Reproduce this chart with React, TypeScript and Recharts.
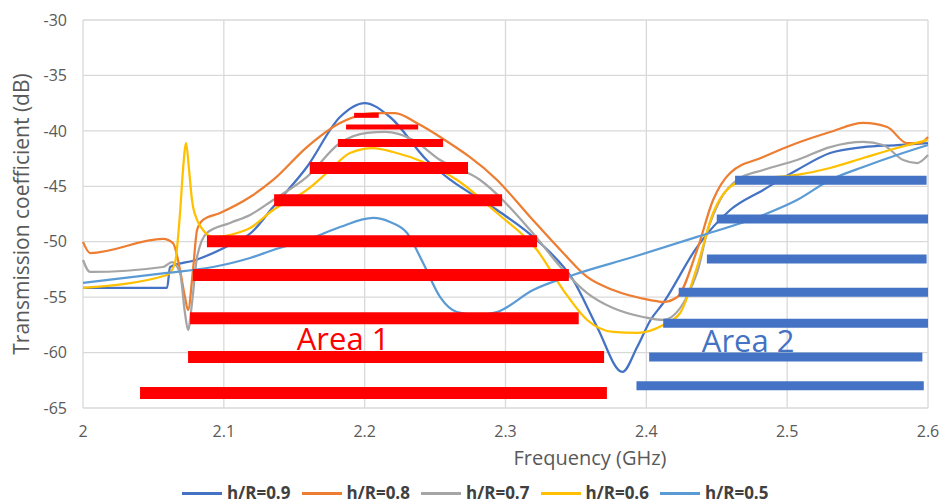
import React from 'react';
import { LineChart, Line, XAxis, YAxis, CartesianGrid, Legend, ReferenceDot, Label } from 'recharts';

const freqTicks = [2, 2.1, 2.2, 2.3, 2.4, 2.5, 2.6];
const dbTicks = [-65, -60, -55, -50, -45, -40, -35, -30];

// [frequency (GHz), transmission (dB)]
const hr09: [number, number][] = [
  [2.0, -54.17], [2.0597, -54.17], [2.0618, -52.28], [2.08, -51.65], [2.1, -50.57], [2.12, -49.12],
  [2.135, -46.87], [2.159, -43.26], [2.1825, -38.75], [2.2, -37.49], [2.218, -38.75], [2.244, -42.63],
  [2.261, -44.43], [2.294, -47.14], [2.3246, -50.12], [2.348, -53.45], [2.365, -57.69], [2.383, -61.75],
  [2.3935, -59.5], [2.403, -57.06], [2.412, -55.53], [2.436, -50.48], [2.4595, -47.14], [2.483, -45.33],
  [2.507, -43.53], [2.5305, -42.0], [2.554, -41.46], [2.578, -41.28], [2.6, -41.1],
];

const hr08: [number, number][] = [
  [2.0, -50.02], [2.005, -51.02], [2.0568, -49.75], [2.0639, -50.12], [2.0689, -52.55], [2.0724, -54.99],
  [2.0746, -56.16], [2.0781, -52.55], [2.081, -48.94], [2.0852, -48.04], [2.0973, -47.41], [2.1186, -45.97],
  [2.135, -44.43], [2.159, -41.46], [2.1825, -39.29], [2.206, -38.39], [2.2216, -38.39], [2.237, -39.29],
  [2.2536, -40.55], [2.294, -44.43], [2.3175, -47.77], [2.341, -51.02], [2.358, -53.18], [2.3764, -54.36],
  [2.4027, -55.26], [2.412, -55.44], [2.422, -54.99], [2.436, -50.75], [2.4474, -46.24], [2.4595, -43.8],
  [2.483, -42.36], [2.507, -41.1], [2.5305, -40.1], [2.554, -39.29], [2.571, -39.65], [2.585, -41.1],
  [2.5945, -41.1], [2.6, -40.55],
];

const hr07: [number, number][] = [
  [2.0, -51.65], [2.005, -52.73], [2.0568, -52.28], [2.0632, -51.83], [2.0689, -52.82], [2.0724, -56.43],
  [2.0746, -57.96], [2.0774, -55.53], [2.081, -51.38], [2.088, -49.21], [2.1044, -48.31], [2.1186, -47.59],
  [2.135, -46.24], [2.159, -44.16], [2.1825, -41.1], [2.2017, -40.19], [2.2145, -40.1], [2.2344, -40.82],
  [2.2536, -42.63], [2.282, -44.43], [2.3175, -48.94], [2.341, -52.55], [2.358, -54.63], [2.3764, -55.98],
  [2.3977, -56.79], [2.412, -57.06], [2.436, -52.82], [2.443, -49.21], [2.4524, -46.24], [2.4645, -44.43],
  [2.483, -43.53], [2.507, -42.63], [2.5305, -41.46], [2.554, -41.0], [2.568, -41.28], [2.5824, -42.63],
  [2.5923, -42.9], [2.6, -42.18],
];

const hr06: [number, number][] = [
  [2.0, -54.17], [2.0597, -53.0], [2.0653, -51.92], [2.0689, -47.41], [2.071, -43.53], [2.0732, -41.1],
  [2.0753, -43.53], [2.0774, -46.24], [2.081, -48.04], [2.0852, -48.94], [2.0923, -49.57], [2.1094, -49.21],
  [2.1186, -48.76], [2.135, -47.14], [2.159, -45.33], [2.1754, -43.53], [2.1896, -42.0], [2.206, -41.55],
  [2.2202, -41.91], [2.2415, -42.81], [2.2656, -44.43], [2.294, -47.41], [2.3224, -50.75], [2.341, -54.36],
  [2.358, -57.06], [2.3764, -58.14], [2.3935, -58.23], [2.412, -57.51], [2.424, -56.43], [2.436, -52.28],
  [2.4474, -47.41], [2.4595, -45.06], [2.4716, -44.43], [2.507, -43.98], [2.5305, -43.35], [2.554, -42.45],
  [2.578, -41.55], [2.6, -40.82],
];

const hr05: [number, number][] = [
  [2.0, -53.72], [2.0597, -52.82], [2.0923, -52.28], [2.1186, -51.47], [2.135, -50.75], [2.159, -49.85],
  [2.1825, -48.67], [2.206, -47.86], [2.218, -48.22], [2.2301, -49.21], [2.2415, -51.92], [2.2536, -54.99],
  [2.2656, -56.34], [2.28, -56.6], [2.294, -56.34], [2.3196, -54.36], [2.348, -53.0], [2.3906, -51.38],
  [2.436, -49.57], [2.483, -47.59], [2.507, -46.24], [2.5305, -44.43], [2.554, -43.26], [2.578, -42.18],
  [2.6, -41.28],
];

const seriesNames = ['h/R=0.9', 'h/R=0.8', 'h/R=0.7', 'h/R=0.6', 'h/R=0.5'];
const seriesPoints = [hr09, hr08, hr07, hr06, hr05];
const seriesColors = ['#4472C4', '#ED7D31', '#A5A5A5', '#FFC000', '#5B9BD5'];

// highlighted bands: level (dB), start and end frequency (GHz)
const area1Level = [-38.6, -39.65, -41.1, -43.35, -46.25, -49.95, -53.0, -56.9, -60.4, -63.65];
const area1From = [2.1925, 2.1868, 2.181, 2.161, 2.1357, 2.088, 2.078, 2.076, 2.0746, 2.0405];
const area1To = [2.21, 2.238, 2.2557, 2.2734, 2.2976, 2.3224, 2.345, 2.352, 2.37, 2.372];
const area2Level = [-44.45, -47.95, -51.55, -54.55, -57.35, -60.4, -63.0];
const area2From = [2.463, 2.45, 2.443, 2.423, 2.412, 2.402, 2.393];
const area2To = [2.599, 2.6, 2.599, 2.6, 2.6, 2.596, 2.597];

const area1Thickness = [5, 5, 8, 12, 12, 12, 12, 12, 12, 12];
const AREA2_THICKNESS = 9;

const FONT = "'Open Sans', sans-serif";
const AXIS_TEXT = '#595959';

const toRows = (pts: [number, number][]) => pts.map(([f, v]) => ({ f, v }));

const renderLegend = (props: any) => {
  const items = (props.payload || [])
    .filter((p: any) => seriesNames.includes(p.value))
    .sort((a: any, b: any) => seriesNames.indexOf(a.value) - seriesNames.indexOf(b.value));
  return (
    <div style={{ display: 'flex', alignItems: 'center', height: 20, paddingLeft: 182, fontFamily: FONT }}>
      {items.map((p: any) => (
        <div key={p.value} style={{ display: 'flex', alignItems: 'center', width: 119.5 }}>
          <span style={{ display: 'inline-block', width: 40, height: 3, background: p.color, marginRight: 5 }} />
          <span style={{ fontSize: 17, fontWeight: 700, color: '#404040', lineHeight: '20px', whiteSpace: 'nowrap' }}>{p.value}</span>
        </div>
      ))}
    </div>
  );
};

export default function App() {
  return (
    <div style={{ position: 'absolute', left: 0, top: 0, background: '#fff' }}>
      <LineChart width={939} height={504} margin={{ top: 20, right: 11, bottom: 66, left: 0 }} style={{ fontFamily: FONT }}>
        <CartesianGrid stroke="#D9D9D9" strokeWidth={1.3} />
        <XAxis
          type="number"
          dataKey="f"
          domain={[2, 2.6]}
          ticks={freqTicks}
          height={30}
          axisLine={false}
          tickLine={false}
          tickSize={0}
          tickMargin={18}
          tick={{ fill: AXIS_TEXT, fontSize: 16 }}
        >
          <Label
            value="Frequency (GHz)"
            content={(p: any) => {
              const vb = p.viewBox;
              return (
                <text x={vb.x + vb.width * 0.6} y={vb.y + 57} textAnchor="middle" fill={AXIS_TEXT} fontSize={20}>
                  Frequency (GHz)
                </text>
              );
            }}
          />
        </XAxis>
        <YAxis
          type="number"
          domain={[-65, -30]}
          ticks={dbTicks}
          width={83}
          axisLine={false}
          tickLine={false}
          tickSize={0}
          tickMargin={16}
          tick={{ fill: AXIS_TEXT, fontSize: 16 }}
        >
          <Label
            value="Transmission coefficient (dB)"
            content={(p: any) => {
              const vb = p.viewBox;
              const cy = vb.y + vb.height / 2;
              return (
                <text x={29} y={cy} transform={`rotate(-90 29 ${cy})`} textAnchor="middle" fill={AXIS_TEXT} fontSize={21}>
                  Transmission coefficient (dB)
                </text>
              );
            }}
          />
        </YAxis>

        {seriesNames.map((name, i) => (
          <Line
            key={name}
            name={name}
            data={toRows(seriesPoints[i])}
            dataKey="v"
            type="monotone"
            stroke={seriesColors[i]}
            strokeWidth={2.25}
            dot={false}
            activeDot={false}
            isAnimationActive={false}
          />
        ))}

        {area1Level.map((lv, i) => (
          <Line
            key={`a1-${i}`}
            name={`area1-${i}`}
            data={[{ f: area1From[i], v: lv }, { f: area1To[i], v: lv }]}
            dataKey="v"
            type="linear"
            stroke="#FF0000"
            strokeWidth={area1Thickness[i]}
            dot={false}
            activeDot={false}
            legendType="none"
            isAnimationActive={false}
          />
        ))}
        {area2Level.map((lv, i) => (
          <Line
            key={`a2-${i}`}
            name={`area2-${i}`}
            data={[{ f: area2From[i], v: lv }, { f: area2To[i], v: lv }]}
            dataKey="v"
            type="linear"
            stroke="#4472C4"
            strokeWidth={AREA2_THICKNESS}
            dot={false}
            activeDot={false}
            legendType="none"
            isAnimationActive={false}
          />
        ))}

        <ReferenceDot x={2.1847} y={-58.82} r={0} fill="none" stroke="none"
          label={{ value: 'Area 1', position: 'center', fill: '#FF0000', fontSize: 31 }} />
        <ReferenceDot x={2.4723} y={-59.0} r={0} fill="none" stroke="none"
          label={{ value: 'Area 2', position: 'center', fill: '#4472C4', fontSize: 31 }} />

        <Legend
          layout="horizontal"
          verticalAlign="middle"
          align="center"
          content={renderLegend}
          wrapperStyle={{ top: 483, left: 0, width: 939, height: 20 }}
        />
      </LineChart>
    </div>
  );
}
